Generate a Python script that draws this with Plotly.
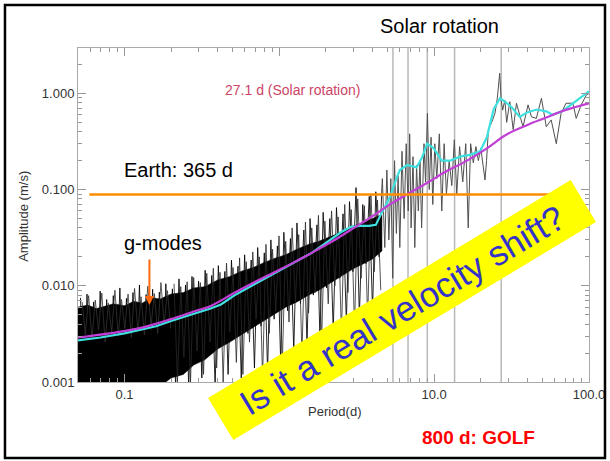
import numpy as np
import plotly.graph_objects as go

FONT = "Liberation Sans, Arial, Helvetica, sans-serif"

# ---------------- data ----------------
# dense core of the amplitude spectrum (solid black region)
band_period = [0.050, 0.058, 0.066, 0.075, 0.085, 0.1, 0.115, 0.13, 0.15, 0.17,
               0.2, 0.24, 0.28, 0.33, 0.4, 0.48, 0.57, 0.68, 0.8, 0.95,
               1.1, 1.3, 1.55, 1.8, 2.1, 2.5, 3.0, 3.5, 4.0, 4.6]
band_upper = [0.0060, 0.0063, 0.0058, 0.0062, 0.0065, 0.0062, 0.0069, 0.0066, 0.0075, 0.0073,
              0.0082, 0.0085, 0.0095, 0.0098, 0.0115, 0.0125, 0.0142, 0.0155, 0.0175, 0.0195,
              0.021, 0.024, 0.027, 0.029, 0.032, 0.036, 0.042, 0.045, 0.050, 0.055]
band_lower = [0.0009, 0.0009, 0.0009, 0.0009, 0.0009, 0.0009, 0.0009, 0.0009, 0.0009, 0.0009,
              0.0011, 0.0012, 0.0015, 0.0017, 0.0022, 0.0026, 0.0031, 0.0037, 0.0044, 0.0052,
              0.0060, 0.0068, 0.0080, 0.0090, 0.0105, 0.0125, 0.015, 0.017, 0.019, 0.023]

# spiky spectrum, short periods
spike_period = [0.052, 0.0546, 0.0573, 0.0602, 0.0632, 0.0664, 0.0697, 0.0732, 0.0768, 0.0807,
                0.0847, 0.0889, 0.0934, 0.098, 0.103, 0.108, 0.1135, 0.119, 0.125, 0.131,
                0.138, 0.145, 0.152, 0.16, 0.168, 0.176, 0.185, 0.194, 0.204, 0.214,
                0.225, 0.236, 0.248, 0.26, 0.273, 0.287, 0.301, 0.316, 0.332, 0.349,
                0.366, 0.385, 0.404, 0.424, 0.445, 0.467, 0.491, 0.515, 0.541, 0.568,
                0.597, 0.627, 0.658, 0.691, 0.725, 0.762, 0.8, 0.84, 0.882, 0.926,
                0.972, 1.02, 1.07, 1.13, 1.18, 1.24, 1.3, 1.37, 1.44, 1.51,
                1.58, 1.66, 1.75, 1.83, 1.92, 2.02, 2.12, 2.23, 2.34, 2.46,
                2.58, 2.71, 2.84, 2.99, 3.13, 3.29, 3.46, 3.63, 3.81, 4.0,
                4.2, 4.41, 4.63]
spike_amp = [0.0075, 0.0009, 0.0082, 0.0009, 0.0068, 0.0009, 0.0088, 0.0009, 0.0072, 0.0009,
             0.0079, 0.0009, 0.0095, 0.0009, 0.0074, 0.0009, 0.0085, 0.0009, 0.0102, 0.0009,
             0.0081, 0.0009, 0.0092, 0.0011, 0.0086, 0.0009, 0.0105, 0.0012, 0.0093, 0.0009,
             0.0118, 0.0014, 0.0102, 0.0009, 0.0125, 0.0016, 0.0112, 0.0011, 0.0145, 0.0019,
             0.0128, 0.0009, 0.0162, 0.0024, 0.0141, 0.0012, 0.0185, 0.0028, 0.0160, 0.0011,
             0.021, 0.0032, 0.0185, 0.0014, 0.025, 0.0038, 0.022, 0.0013, 0.030, 0.0045,
             0.026, 0.0017, 0.036, 0.0055, 0.031, 0.0021, 0.045, 0.0065, 0.038, 0.0024,
             0.050, 0.008, 0.043, 0.0029, 0.058, 0.0095, 0.050, 0.0034, 0.065, 0.012,
             0.056, 0.0042, 0.075, 0.014, 0.105, 0.0048, 0.070, 0.017, 0.085, 0.0055,
             0.095, 0.020, 0.13]

# second set of spikes between the first ones
spike2_period = [0.209, 0.22, 0.231, 0.242, 0.254, 0.267, 0.28, 0.294, 0.309, 0.324,
                 0.34, 0.357, 0.375, 0.394, 0.414, 0.434, 0.456, 0.479, 0.503, 0.528,
                 0.554, 0.582, 0.612, 0.642, 0.674, 0.708, 0.743, 0.78, 0.82, 0.861,
                 0.904, 0.949, 0.996, 1.045, 1.1, 1.155, 1.21, 1.27, 1.335, 1.4,
                 1.475, 1.545, 1.62, 1.705, 1.79, 1.875, 1.97, 2.07, 2.175, 2.285,
                 2.4, 2.52, 2.645, 2.775, 2.915, 3.06, 3.21, 3.375, 3.545, 3.72,
                 3.905, 4.1, 4.305, 4.52]
spike2_amp = [0.0105, 0.0010, 0.0098, 0.0018, 0.0110, 0.0010, 0.0122, 0.0021, 0.0108, 0.0012,
              0.0135, 0.0026, 0.0152, 0.0014, 0.0138, 0.0010, 0.0172, 0.0033, 0.0155, 0.0016,
              0.0195, 0.0012, 0.0178, 0.0026, 0.0225, 0.0045, 0.020, 0.0011, 0.027, 0.0032,
              0.024, 0.0055, 0.033, 0.0015, 0.029, 0.0042, 0.040, 0.0068, 0.034, 0.0019,
              0.046, 0.0052, 0.040, 0.0085, 0.054, 0.0026, 0.047, 0.0065, 0.060, 0.010,
              0.052, 0.0031, 0.070, 0.0085, 0.062, 0.0036, 0.080, 0.012, 0.068, 0.0045,
              0.090, 0.014, 0.078, 0.009]

# fine spikes on the top of the dense part at the shortest periods
spike3_period = [0.0533, 0.0559, 0.0587, 0.0617, 0.0648, 0.068, 0.0714, 0.075, 0.0787, 0.0827,
                 0.0868, 0.0911, 0.0957, 0.1005, 0.1055, 0.1108, 0.1162, 0.122, 0.128, 0.1345,
                 0.1415, 0.1485, 0.156, 0.164, 0.172, 0.1805, 0.1895, 0.199]
spike3_amp = [0.0068, 0.0031, 0.0079, 0.0028, 0.0071, 0.0035, 0.0084, 0.0026, 0.0066, 0.0033,
              0.0090, 0.0030, 0.0072, 0.0036, 0.0082, 0.0029, 0.0094, 0.0034, 0.0077, 0.0031,
              0.0099, 0.0038, 0.0083, 0.0032, 0.0108, 0.0040, 0.0089, 0.0036]

# spectrum, long periods
tail_period = [4.63, 4.8, 4.95, 5.1, 5.25, 5.4, 5.55, 5.7, 5.85, 6.0,
               6.2, 6.4, 6.6, 6.8, 6.95, 7.1, 7.3, 7.5, 7.7, 7.9,
               8.1, 8.3, 8.6, 8.8, 9.05, 9.3, 9.55, 9.8, 10.1, 10.4,
               10.8, 11.2, 11.6, 12.0, 12.5, 13.0, 13.5, 14.0, 14.6, 15.3,
               16.0, 16.6, 17.2, 17.9, 18.6, 19.3, 20.0, 20.7, 21.3, 21.8,
               22.4, 23.5, 24.7, 25.6, 26.5, 27.1, 27.7, 28.6, 29.4, 30.8,
               32.4, 34.0, 35.7, 37.5, 40.4, 42.5, 45.7, 49.3, 53.0, 57.0,
               61.5, 66.0, 71.0, 78.7, 82.7, 89.0, 96.0, 100.0]
tail_amp = [0.13, 0.025, 0.16, 0.03, 0.13, 0.012, 0.20, 0.035, 0.14, 0.025,
            0.25, 0.05, 0.30, 0.06, 0.38, 0.04, 0.22, 0.025, 0.18, 0.06,
            0.20, 0.04, 0.30, 0.12, 0.62, 0.10, 0.35, 0.07, 0.30, 0.13,
            0.38, 0.06, 0.30, 0.09, 0.20, 0.11, 0.33, 0.09, 0.28, 0.12,
            0.30, 0.04, 0.30, 0.19, 0.28, 0.20, 0.27, 0.17, 0.126, 0.20,
            0.42, 0.50, 0.62, 0.90, 1.62, 0.85, 0.67, 0.85, 0.50, 0.82,
            0.42, 0.79, 0.60, 0.45, 0.76, 0.57, 0.55, 0.89, 0.45, 0.53,
            0.30, 0.62, 0.79, 0.79, 0.55, 0.76, 0.96, 1.0]

# smoothed spectrum (cyan)
smooth_period = [0.050, 0.07, 0.1, 0.13, 0.16, 0.2, 0.25, 0.31, 0.36, 0.42,
                 0.51, 0.7, 0.91, 1.2, 1.62, 2.0, 2.5, 2.9, 3.3, 3.8,
                 4.2, 4.6, 5.2, 5.7, 6.0, 6.7, 7.7, 8.4, 9.0, 9.9,
                 11.2, 12.7, 14.7, 17.0, 19.8, 21.9, 24.2, 26.6, 28.7, 31.6,
                 35.7, 39.5, 45.8, 53.0, 58.0, 67.0, 82.0, 96.0, 100.0]
smooth_amp = [0.0027, 0.0029, 0.0032, 0.0035, 0.0038, 0.0043, 0.0048, 0.0053, 0.0058, 0.0064,
              0.0079, 0.0105, 0.0132, 0.017, 0.022, 0.028, 0.036, 0.041, 0.042, 0.042,
              0.043, 0.058, 0.085, 0.13, 0.16, 0.18, 0.17, 0.22, 0.30, 0.27,
              0.20, 0.20, 0.22, 0.23, 0.25, 0.35, 0.68, 0.89, 0.82, 0.72,
              0.57, 0.63, 0.68, 0.65, 0.60, 0.65, 0.82, 1.0, 1.06]

# background fit (magenta)
fit_period = [0.050, 0.08, 0.132, 0.2, 0.29, 0.355, 0.51, 0.7, 0.91, 1.2,
              1.62, 2.2, 2.88, 4.0, 5.1, 6.9, 9.2, 12.0, 16.3, 22.0,
              29.0, 40.0, 52.0, 70.0, 100.0]
fit_amp = [0.0029, 0.0032, 0.0037, 0.0045, 0.0055, 0.0061, 0.0084, 0.011, 0.0136, 0.017,
           0.022, 0.029, 0.038, 0.053, 0.069, 0.092, 0.12, 0.155, 0.20, 0.27,
           0.37, 0.47, 0.555, 0.67, 0.79]

# solar rotation period and harmonics (days)
rotation_lines = [27.1, 13.55, 9.03, 6.78, 5.42]

# Earth orbit line
earth_amp = 0.089
earth_span = [0.058, 85.0]

# g-modes arrow
gmode_period = 0.145
gmode_amp_span = [0.0195, 0.0063]

# axis ticks
x_tickvals = [0.1, 1, 10, 100]
x_ticktext = ["0.1", "1.0", "10.0", "100.0"]
y_tickvals = [0.001, 0.01, 0.1, 1.0]
y_ticktext = ["0.001", "0.010", "0.100", "1.000"]

# ---------------- figure ----------------
fig = go.Figure()

fig.add_trace(go.Scatter(
    x=band_period + band_period[::-1], y=band_upper + band_lower[::-1],
    mode="lines", fill="toself", fillcolor="black", line=dict(width=0.5, color="black"),
    hoverinfo="skip"))
fig.add_trace(go.Scatter(x=spike_period, y=spike_amp, mode="lines",
                         line=dict(color="rgba(0,0,0,0.85)", width=1)))
fig.add_trace(go.Scatter(x=spike2_period, y=spike2_amp, mode="lines",
                         line=dict(color="rgba(40,40,40,0.8)", width=1)))
fig.add_trace(go.Scatter(x=spike3_period, y=spike3_amp, mode="lines",
                         line=dict(color="rgba(50,50,50,0.8)", width=1)))
fig.add_trace(go.Scatter(x=tail_period, y=tail_amp, mode="lines",
                         line=dict(color="#505050", width=1)))
fig.add_trace(go.Scatter(x=smooth_period, y=smooth_amp, mode="lines",
                         line=dict(color="#3fe0e0", width=2.2)))
fig.add_trace(go.Scatter(x=fit_period, y=fit_amp, mode="lines", line_shape="spline",
                         line=dict(color="#c23fd6", width=2.2)))

for p in rotation_lines:
    fig.add_shape(type="line", xref="x", yref="paper", x0=p, x1=p, y0=0, y1=1,
                  line=dict(color="#b8b8b8", width=1.5), layer="between")

# outer frame
fig.add_shape(type="rect", xref="paper", yref="paper",
              x0=-0.1429, x1=1.0313, y0=-0.2275, y1=1.1287,
              line=dict(color="black", width=2.5))

x_minor = [m * 10.0 ** e for e in range(-2, 2) for m in range(2, 10)]
y_minor = [m * 10.0 ** e for e in range(-3, 1) for m in range(2, 10)]

axis_common = dict(
    type="log", ticks="inside", ticklen=8, tickcolor="#999999", tickwidth=1,
    linecolor="#aaaaaa", linewidth=1, mirror="ticks", showgrid=False, zeroline=False,
    automargin=False,
    tickfont=dict(size=13, color="#333333", family=FONT),
)
fig.update_xaxes(range=[-1.3, 2.0], tickmode="array", tickvals=x_tickvals, ticktext=x_ticktext,
                 minor=dict(tickmode="array", tickvals=x_minor, ticks="inside", ticklen=4,
                            tickcolor="#999999", showgrid=False),
                 **axis_common)
fig.update_yaxes(range=[-3.0, 0.472], tickmode="array", tickvals=y_tickvals, ticktext=y_ticktext,
                 minor=dict(tickmode="array", tickvals=y_minor, ticks="inside", ticklen=4,
                            tickcolor="#999999", showgrid=False),
                 **axis_common)

fig.update_layout(
    width=610, height=461, autosize=False, margin=dict(l=78, r=21, t=48, b=79),
    paper_bgcolor="white", plot_bgcolor="white", showlegend=False,
    font=dict(family=FONT),
)

# arrows
fig.add_annotation(x=np.log10(earth_span[1]), y=np.log10(earth_amp),
                   ax=np.log10(earth_span[0]), ay=np.log10(earth_amp),
                   xref="x", yref="y", axref="x", ayref="y", text="",
                   showarrow=True, arrowhead=2, arrowsize=0.8, arrowwidth=2.5,
                   arrowcolor="#ff8c00")
fig.add_annotation(x=np.log10(gmode_period), y=np.log10(gmode_amp_span[1]),
                   ax=np.log10(gmode_period), ay=np.log10(gmode_amp_span[0]),
                   xref="x", yref="y", axref="x", ayref="y", text="",
                   showarrow=True, arrowhead=2, arrowsize=0.9, arrowwidth=2,
                   arrowcolor="#ff6a10")

# texts
def label(text, x, y, size, color, xanchor="center", angle=0):
    fig.add_annotation(text=text, xref="paper", yref="paper", x=x, y=y,
                       xanchor=xanchor, yanchor="middle", textangle=angle, showarrow=False,
                       font=dict(size=size, color=color, family=FONT))

label("Solar rotation", 0.7065, 1.066, 20, "black")
label("27.1 d (Solar rotation)", 0.419, 0.874, 14, "#cc4466")
label("Earth: 365 d", 0.086, 0.635, 20, "black", xanchor="left")
label("g-modes", 0.086, 0.416, 20, "black", xanchor="left")
label("Amplitude (m/s)", -0.108, 0.497, 13, "#333333", angle=-90)
label("Period(d)", 0.5029, -0.087, 13, "#333333")
label("<b>800 d: GOLF</b>", 0.783, -0.165, 19, "#ff0000")

fig.add_annotation(text="Is it a real velocity shift?", xref="paper", yref="paper",
                   x=0.634, y=0.2156, xanchor="center", yanchor="middle", showarrow=False,
                   textangle=-31, bgcolor="#ffff00", width=422, height=48, borderpad=0,
                   font=dict(size=35, color="#3434c8", family=FONT))

fig.write_html("out.html", config={"displayModeBar": False, "responsive": False},
               post_script="document.body.style.margin='0px';document.body.style.overflow='hidden';")
